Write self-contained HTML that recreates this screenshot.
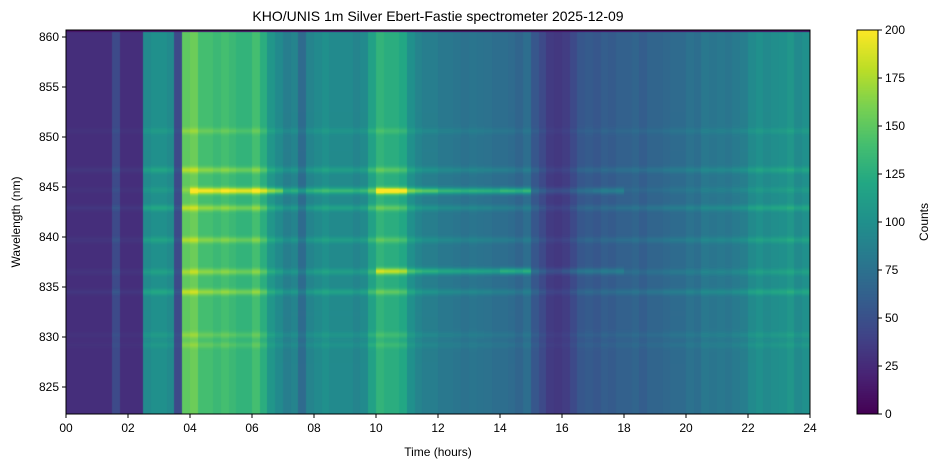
<!DOCTYPE html>
<html><head><meta charset="utf-8"><style>
body{margin:0;background:#fff;width:941px;height:468px;overflow:hidden;font-family:"Liberation Sans",sans-serif}
#wrap{position:relative;width:941px;height:468px}
svg text{font-family:"Liberation Sans",sans-serif;fill:#000}
</style></head><body>
<div id="wrap">
<canvas id="hm" width="744" height="384" style="position:absolute;left:66px;top:30px"></canvas>
<canvas id="cb" width="21" height="384" style="position:absolute;left:857px;top:30px"></canvas>
<svg id="ax" width="941" height="468" style="position:absolute;left:0;top:0"></svg>
</div>
<script>
// ---- data ----
const timeBinsPerHour = 4;
const baseCounts = [27,27,27,27, 27,27,45,27, 27,27,95,100, 100,95,45,150,
 155,140,140,135, 140,135,130,130, 140,125,105,95, 85,90,70,90,
 95,100,95,95, 95,90,95,115, 130,125,125,120, 100,90,85,85,
 80,80,78,75, 78,76,75,72, 72,70,65,72, 55,45,35,33,
 36,45,55,58, 55,60,58,62, 62,65,60,65, 65,68,70,70,
 75,72,80,78, 80,78,82,85, 95,100,95,98, 100,105,95,100];
const lineWavelengths = [850.6, 846.7, 844.7, 842.9, 839.7, 836.5, 834.5, 830.2, 829.2];
const lineStrengths   = [0.1, 0.18, 0.1, 0.2, 0.17, 0.15, 0.2, 0.1, 0.08];
const aurora845 = [0,0,0,0,45,50,55,30,30,30,80,55,45,45,55,12,12,20,0,0,0,0,0,0];
const aurora836 = [0,0,0,0,5,5,5,3,3,3,40,30,28,28,45,10,15,15,0,0,0,0,0,0];
const xTicks = ["00","02","04","06","08","10","12","14","16","18","20","22","24"];
const yTicks = [825,830,835,840,845,850,855,860];
const cbTicks = [0,25,50,75,100,125,150,175,200];

// ---- scales ----
const X0=66,X1=810,Y0=30,Y1=414, WTOP=860.7, WBOT=822.3;
const xs = h => X0 + h/24*(X1-X0);
const ys = w => Y0 + (WTOP-w)/(WTOP-WBOT)*(Y1-Y0);
const vir=[[68,1,84],[72,35,116],[64,67,135],[52,94,141],[41,120,142],[32,144,140],[34,167,132],[68,190,112],[121,209,81],[189,222,38],[253,231,37]];
function cmap(v){let t=Math.max(0,Math.min(1,v/200))*(vir.length-1);let i=Math.min(vir.length-2,Math.floor(t)),f=t-i;
 return vir[i].map((c,k)=>Math.round(c+(vir[i+1][k]-c)*f));}

// ---- heatmap ----
const cv=document.getElementById('hm'),ctx=cv.getContext('2d');
const W=cv.width,H=cv.height,img=ctx.createImageData(W,H);
for(let px=0;px<W;px++){
 const hr=(px+0.5)/W*24, bin=Math.min(baseCounts.length-1,Math.floor(hr*timeBinsPerHour)), hi=Math.min(23,Math.floor(hr));
 const b=baseCounts[bin];
 for(let py=0;py<H;py++){
  const wl=WTOP-(py+0.5)/H*(WTOP-WBOT);
  let v=b;
  for(let k=0;k<lineWavelengths.length;k++){const d=(wl-lineWavelengths[k])/0.22;v+=b*lineStrengths[k]*Math.exp(-d*d/2);}
  let d1=(wl-844.6)/0.22; v+=aurora845[hi]*Math.exp(-d1*d1/2);
  let d2=(wl-836.6)/0.22; v+=aurora836[hi]*Math.exp(-d2*d2/2);
  if(wl>860.45) v=10;
  const c=cmap(v),o=(py*W+px)*4;img.data[o]=c[0];img.data[o+1]=c[1];img.data[o+2]=c[2];img.data[o+3]=255;
 }}
ctx.putImageData(img,0,0);
// colorbar
const cb=document.getElementById('cb'),cc=cb.getContext('2d');
for(let y=0;y<384;y++){const c=cmap(200*(1-(y+0.5)/384));cc.fillStyle=`rgb(${c})`;cc.fillRect(0,y,21,1);}

// ---- axes ----
const svg=document.getElementById('ax'),NS='http://www.w3.org/2000/svg';
function el(t,a,txt){const e=document.createElementNS(NS,t);for(const k in a)e.setAttribute(k,a[k]);if(txt!==undefined)e.textContent=txt;svg.appendChild(e);return e;}
let e;
e=el('rect',{x:X0,y:Y0,width:X1-X0,height:Y1-Y0,fill:'none',stroke:'#000','stroke-width':1});


e=el('rect',{x:857,y:30,width:21,height:384,fill:'none',stroke:'#000','stroke-width':1});


xTicks.forEach((t,i)=>{const x=xs(i*2);
 el('line',{x1:x,x2:x,y1:Y1,y2:Y1+4,stroke:'#000'});
 e=el('text',{x:x,y:Y1+18,'text-anchor':'middle','font-size':12},t);
 
 });
yTicks.forEach(w=>{const y=ys(w);
 el('line',{x1:X0-4,x2:X0,y1:y,y2:y,stroke:'#000'});
 e=el('text',{x:X0-7,y:y+4,'text-anchor':'end','font-size':12},w);
 
 });
cbTicks.forEach(v=>{const y=414-v/200*384;
 el('line',{x1:878,x2:882,y1:y,y2:y,stroke:'#000'});
 e=el('text',{x:885,y:y+4,'font-size':12},v);
 
 });
e=el('text',{x:438,y:21,'text-anchor':'middle','font-size':14},'KHO/UNIS 1m Silver Ebert-Fastie spectrometer 2025-12-09');


e=el('text',{x:438,y:456,'text-anchor':'middle','font-size':12},'Time (hours)');


e=el('text',{x:20,y:222,'text-anchor':'middle','font-size':12,transform:'rotate(-90 20 222)'},'Wavelength (nm)');


e=el('text',{x:928,y:222,'text-anchor':'middle','font-size':12,transform:'rotate(-90 928 222)'},'Counts');


</script>
</body></html>
